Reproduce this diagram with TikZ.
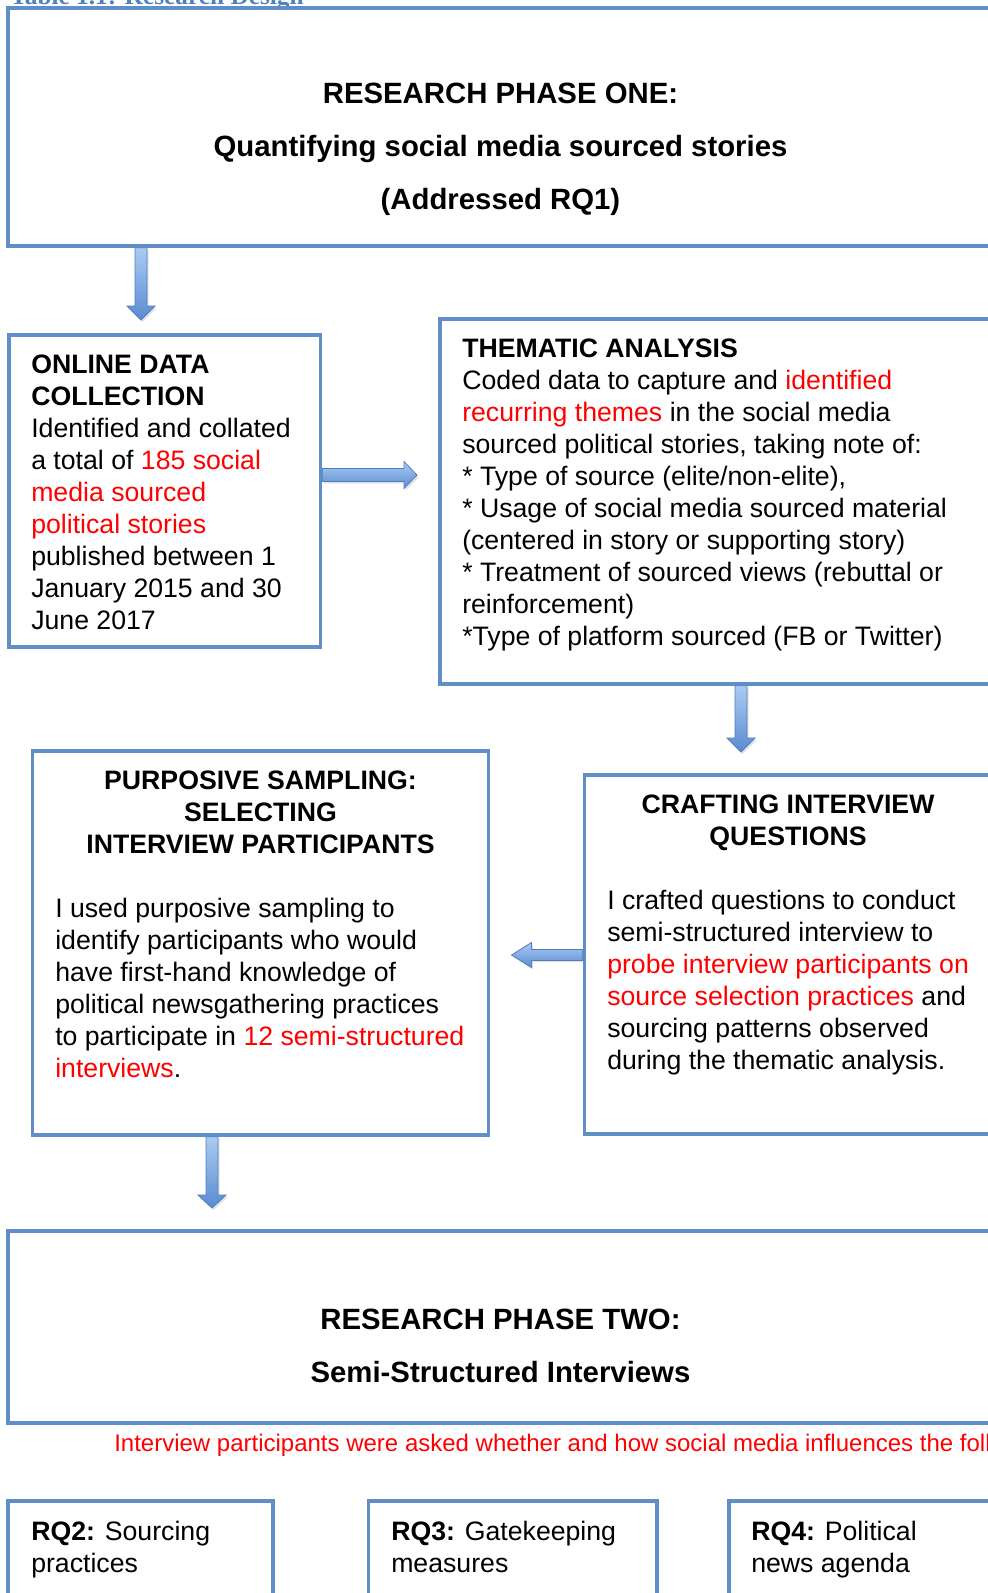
\documentclass[tikz,border=0pt]{standalone}
\usepackage{fontspec}
\setmainfont{Liberation Sans}
\newfontfamily\titlefont{Liberation Serif}
\usetikzlibrary{fit,calc,shadows}
\definecolor{boxblue}{RGB}{95,143,198}
\definecolor{titleblue}{RGB}{79,129,189}
\definecolor{arrowlight}{RGB}{172,202,242}
\definecolor{arrowdark}{RGB}{88,140,210}
\definecolor{arrowline}{RGB}{78,126,190}
\definecolor{redtext}{RGB}{255,0,0}
\newcommand\rt[1]{\textcolor{redtext}{#1}}
% vertical block arrow: #1 start, #2 tip, #3 shaft half, #4 head half, #5 head length
\newcommand\varrowbox[5]{%
  \path[blockarrow] let \p1=(#1), \p2=(#2) in
   ({\x2-#3},{\y1}) -- ({\x2-#3},{\y2+#5}) -- ({\x2-#4},{\y2+#5}) -- (\x2,\y2)
   -- ({\x2+#4},{\y2+#5}) -- ({\x2+#3},{\y2+#5}) -- ({\x2+#3},{\y1}) -- cycle;}
% horizontal block arrow: #1 start, #2 tip, #3 shaft half, #4 head half, #5 signed head length
\newcommand\harrowbox[5]{%
  \path[blockarrow] let \p1=(#1), \p2=(#2) in
   ({\x1},{\y2+#3}) -- ({\x2-(#5)},{\y2+#3}) -- ({\x2-(#5)},{\y2+#4}) -- (\x2,\y2)
   -- ({\x2-(#5)},{\y2-#4}) -- ({\x2-(#5)},{\y2-#3}) -- ({\x1},{\y2-#3}) -- cycle;}
\tikzset{
  box/.style={draw=boxblue, line width=2.6pt, inner sep=0pt},
  body/.style={font=\fontsize{20pt}{24pt}\selectfont, inner sep=0pt, align=left, anchor=base west},
  head/.style={font=\fontsize{20pt}{24pt}\selectfont\bfseries, inner sep=0pt, align=center, anchor=base},
  bigtitle/.style={font=\fontsize{22pt}{39.75pt}\selectfont\bfseries, inner sep=0pt, align=center, anchor=base},
  redline/.style={font=\fontsize{18pt}{21.6pt}\selectfont, text=redtext, inner sep=0pt, anchor=base west},
  blockarrow/.style={draw=arrowline, line width=0.6pt, top color=arrowlight, bottom color=arrowdark,
    drop shadow={opacity=0.22, shadow xshift=1.3pt, shadow yshift=-1.5pt}}
}
\begin{document}
\begin{tikzpicture}[x=0.75pt, y=-0.75pt]
\useasboundingbox (0,0) rectangle (988,1593);
\clip (0,0) rectangle (988,1593);

\node[font=\titlefont\fontsize{19pt}{22pt}\selectfont\bfseries, text=titleblue, anchor=base west, inner sep=0pt] (table) at (10,4) {Table 1.1: Research Design};

% boxes
\node[box, fit={(8,8) (1012,246)}] (phase1) {};
\node[box, fit={(9,335) (320.5,647)}] (online) {};
\node[box, fit={(440,319) (1012,684)}] (thematic) {};
\node[box, fit={(32.5,751) (488.5,1135)}] (purposive) {};
\node[box, fit={(584.5,775) (1012,1134)}] (crafting) {};
\node[box, fit={(8,1231) (1012,1423)}] (phase2) {};
\node[box, fit={(8,1501) (273,1640)}] (rq2) {};
\node[box, fit={(368.5,1501) (657,1640)}] (rq3) {};
\node[box, fit={(729,1501) (1012,1640)}] (rq4) {};

% texts (anchored at the baseline of their last line)
\node[bigtitle] (phase1t) at (500.5,209) {RESEARCH PHASE ONE:\\Quantifying social media sourced stories\\(Addressed RQ1)};

\node[body] (onlinet) at (31,629) {\textbf{ONLINE DATA}\\\textbf{COLLECTION}\\Identified and collated\\a total of \rt{185 social}\\\rt{media sourced}\\\rt{political stories}\\published between 1\\January 2015 and 30\\June 2017};

\node[body] (thematict) at (462,645) {\textbf{THEMATIC ANALYSIS}\\Coded data to capture and \rt{identified}\\\rt{recurring themes} in the social media\\sourced political stories, taking note of:\\* Type of source (elite/non-elite),\\* Usage of social media sourced material\\(centered in story or supporting story)\\* Treatment of sourced views (rebuttal or\\reinforcement)\\*Type of platform sourced (FB or Twitter)};

\node[head] (purposiveh) at (260.5,853) {PURPOSIVE SAMPLING:\\SELECTING\\INTERVIEW PARTICIPANTS};
\node[body] (purposivet) at (55,1077) {I used purposive sampling to\\identify participants who would\\have first-hand knowledge of\\political newsgathering practices\\to participate in \rt{12 semi-structured}\\\rt{interviews}.};

\node[head] (craftingh) at (788,845) {CRAFTING INTERVIEW\\QUESTIONS};
\node[body] (craftingt) at (607,1069) {I crafted questions to conduct\\semi-structured interview to\\\rt{probe interview participants on}\\\rt{source selection practices} and\\sourcing patterns observed\\during the thematic analysis.};

\node[bigtitle] (phase2t) at (500.5,1382) {RESEARCH PHASE TWO:\\Semi-Structured Interviews};

\node[redline] (ask) at (114,1451) {Interview participants were asked whether and how social media influences the foll};

\node[body] (rq2t) at (31,1572) {\textbf{RQ2:} Sourcing\\practices};
\node[body] (rq3t) at (391,1572) {\textbf{RQ3:} Gatekeeping\\measures};
\node[body] (rq4t) at (751,1572) {\textbf{RQ4:} Political\\news agenda};

% arrows
\coordinate (a1tip) at (141,320);
\coordinate (a2tip) at (417,475);
\coordinate (a3tip) at (741,752);
\coordinate (a4tip) at (511.5,955);
\coordinate (a5tip) at (212,1208);
\varrowbox{a1tip |- phase1.south}{a1tip}{4.5pt}{10.5pt}{10.5pt}
\harrowbox{online.east |- a2tip}{a2tip}{4.9pt}{10.1pt}{9.75pt}
\varrowbox{a3tip |- thematic.south}{a3tip}{4.5pt}{10.5pt}{10.5pt}
\harrowbox{crafting.west |- a4tip}{a4tip}{4.1pt}{9.4pt}{-15pt}
\varrowbox{a5tip |- purposive.south}{a5tip}{4.5pt}{10.5pt}{9.75pt}
\end{tikzpicture}
\end{document}
